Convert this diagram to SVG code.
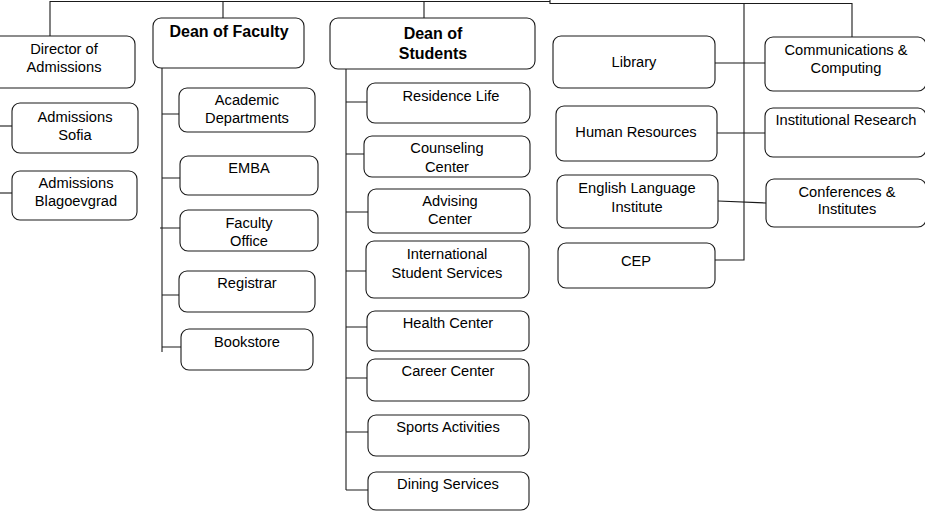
<svg xmlns="http://www.w3.org/2000/svg" width="925" height="512" viewBox="0 0 925 512">
<style>
.box{fill:#fff;stroke:#1a1a1a;stroke-width:1.1}
.t{font-family:"Liberation Sans",Arial,sans-serif;font-size:14.67px;fill:#000;text-anchor:middle}
.b{font-family:"Liberation Sans",Arial,sans-serif;font-size:16px;font-weight:bold;fill:#000;text-anchor:middle}
.c{fill:none;stroke:#1a1a1a;stroke-width:1.1}
</style>
<rect width="925" height="512" fill="#fff"/>
<g id="connectors" class="c">
<path d="M50,36 V1.5 H550"/>
<path d="M223,18 V1.5"/>
<path d="M424,18 V1.5"/>
<path d="M550,0 V3.5 H852 V37"/>
<path d="M744,3.5 V260 H715"/>
<path d="M715,63 H765"/>
<path d="M717,133 H765"/>
<path d="M718,201 L766,203"/>
<path d="M0,126 H12"/>
<path d="M0,193 H12"/>
<path d="M162,68 V352"/>
<path d="M162,114 H179 M162,178 H180 M160,228 H180 M162,295 H179 M162,347 H181"/>
<path d="M346,69 V490"/>
<path d="M346,102 H367 M346,154 H364 M346,212 H368 M346,271 H366 M346,327 H367 M346,378 H367 M346,432 H368 M346,490 H368"/>
</g>
<g id="director"><rect class="box" x="-10" y="36" width="145" height="52" rx="8"/><text class="t" x="64" y="54">Director of</text><text class="t" x="64" y="72">Admissions</text></g>
<g id="sofia"><rect class="box" x="12" y="103" width="126" height="50" rx="8"/><text class="t" x="75" y="122">Admissions</text><text class="t" x="75" y="140">Sofia</text></g>
<g id="blagoevgrad"><rect class="box" x="12" y="171" width="125" height="49" rx="8"/><text class="t" x="76" y="188">Admissions</text><text class="t" x="76" y="206">Blagoevgrad</text></g>
<g id="deanFaculty"><rect class="box" x="153" y="18" width="151" height="50" rx="8"/><text class="b" x="229" y="37">Dean of Faculty</text></g>
<g id="academic"><rect class="box" x="179" y="88" width="136" height="44" rx="8"/><text class="t" x="247" y="105">Academic</text><text class="t" x="247" y="123">Departments</text></g>
<g id="emba"><rect class="box" x="180" y="156" width="138" height="39" rx="8"/><text class="t" x="249" y="173">EMBA</text></g>
<g id="facultyOffice"><rect class="box" x="180" y="210" width="138" height="41" rx="8"/><text class="t" x="249" y="228">Faculty</text><text class="t" x="249" y="246">Office</text></g>
<g id="registrar"><rect class="box" x="179" y="271" width="136" height="41" rx="8"/><text class="t" x="247" y="288">Registrar</text></g>
<g id="bookstore"><rect class="box" x="181" y="329" width="132" height="41" rx="8"/><text class="t" x="247" y="347">Bookstore</text></g>
<g id="deanStudents"><rect class="box" x="330" y="18" width="205" height="51" rx="8"/><text class="b" x="433" y="39">Dean of</text><text class="b" x="433" y="59">Students</text></g>
<g id="residence"><rect class="box" x="367" y="83" width="163" height="40" rx="8"/><text class="t" x="451" y="101">Residence Life</text></g>
<g id="counseling"><rect class="box" x="364" y="136" width="166" height="41" rx="8"/><text class="t" x="447" y="153">Counseling</text><text class="t" x="447" y="172">Center</text></g>
<g id="advising"><rect class="box" x="368" y="189" width="162" height="44" rx="8"/><text class="t" x="450" y="206">Advising</text><text class="t" x="450" y="224">Center</text></g>
<g id="iss"><rect class="box" x="366" y="241" width="163" height="57" rx="8"/><text class="t" x="447" y="259">International</text><text class="t" x="447" y="278">Student Services</text></g>
<g id="health"><rect class="box" x="367" y="311" width="162" height="40" rx="8"/><text class="t" x="448" y="328">Health Center</text></g>
<g id="career"><rect class="box" x="367" y="359" width="162" height="42" rx="8"/><text class="t" x="448" y="376">Career Center</text></g>
<g id="sports"><rect class="box" x="368" y="415" width="161" height="41" rx="8"/><text class="t" x="448" y="432">Sports Activities</text></g>
<g id="dining"><rect class="box" x="368" y="472" width="161" height="38" rx="8"/><text class="t" x="448" y="489">Dining Services</text></g>
<g id="library"><rect class="box" x="553" y="36" width="162" height="52" rx="8"/><text class="t" x="634" y="67">Library</text></g>
<g id="hr"><rect class="box" x="556" y="106" width="161" height="55" rx="8"/><text class="t" x="636" y="137">Human Resources</text></g>
<g id="eli"><rect class="box" x="557" y="175" width="161" height="53" rx="8"/><text class="t" x="637" y="193">English Language</text><text class="t" x="637" y="212">Institute</text></g>
<g id="cep"><rect class="box" x="558" y="243" width="157" height="45" rx="8"/><text class="t" x="636" y="266">CEP</text></g>
<g id="comm"><rect class="box" x="765" y="37" width="161" height="54" rx="8"/><text class="t" x="846" y="55">Communications &amp;</text><text class="t" x="846" y="73">Computing</text></g>
<g id="ir"><rect class="box" x="765" y="108" width="161" height="49" rx="8"/><text class="t" x="846" y="125">Institutional Research</text></g>
<g id="conf"><rect class="box" x="766" y="179" width="160" height="48" rx="8"/><text class="t" x="847" y="197">Conferences &amp;</text><text class="t" x="847" y="214">Institutes</text></g>
</svg>
